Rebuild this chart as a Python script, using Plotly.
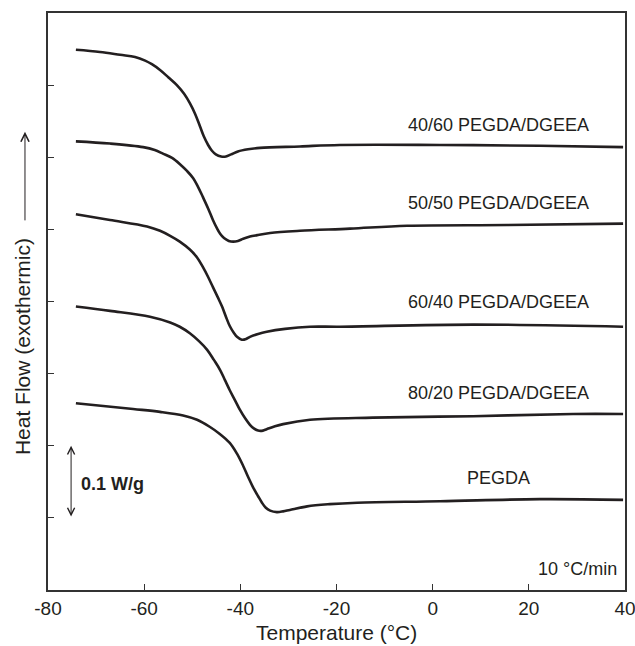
import plotly.graph_objects as go

# ---- data (Temperature in °C, heat flow in W/g, curves offset vertically) ----
x_4060 = [-74.2, -69.2, -65.0, -61.9, -59.8, -58.4, -56.7, -55.0, -53.2, -51.7, -50.5, -49.4, -48.4, -47.6,
          -46.7, -45.9, -45.1, -44.0, -43.0, -41.9, -40.5, -38.4, -35.9, -27.6, -19.3, 1.5, 22.3, 39.6]
y_4060 = [0.749, 0.746, 0.742, 0.739, 0.734, 0.729, 0.721, 0.711, 0.700, 0.688, 0.675, 0.660, 0.643, 0.629,
          0.617, 0.609, 0.604, 0.601, 0.601, 0.604, 0.608, 0.611, 0.613, 0.615, 0.617, 0.617, 0.616, 0.614]

x_5050 = [-74.2, -67.1, -60.2, -57.8, -56.1, -54.2, -52.5, -51.1, -49.8, -48.8, -47.8, -46.7, -45.7, -44.9,
          -44.2, -43.4, -42.4, -41.5, -40.5, -39.4, -38.0, -36.5, -33.8, -27.6, -17.2, -5.3, 15.5, 39.6]
y_5050 = [0.622, 0.619, 0.614, 0.610, 0.605, 0.599, 0.590, 0.581, 0.571, 0.559, 0.545, 0.529, 0.513, 0.502,
          0.494, 0.488, 0.484, 0.483, 0.484, 0.487, 0.490, 0.492, 0.495, 0.498, 0.501, 0.505, 0.506, 0.508]

x_6040 = [-74.2, -67.1, -59.4, -56.7, -54.6, -52.6, -50.5, -49.0, -47.8, -46.7, -45.7, -44.7, -43.8, -43.0,
          -42.2, -41.3, -40.7, -39.7, -38.8, -38.0, -36.3, -34.5, -30.7, -25.5, -19.3, 8.4, 39.6]
y_6040 = [0.521, 0.513, 0.504, 0.498, 0.491, 0.483, 0.472, 0.461, 0.448, 0.434, 0.420, 0.406, 0.393, 0.379,
          0.366, 0.356, 0.351, 0.347, 0.348, 0.351, 0.355, 0.358, 0.362, 0.365, 0.365, 0.368, 0.365]

x_8020 = [-74.2, -67.1, -58.8, -54.6, -52.6, -50.5, -48.6, -46.9, -45.5, -44.2, -43.2, -42.2, -41.1, -40.1,
          -39.0, -38.0, -37.2, -36.3, -35.3, -34.5, -32.8, -31.1, -25.5, -12.4, 8.4, 29.2, 39.6]
y_8020 = [0.393, 0.387, 0.379, 0.371, 0.365, 0.356, 0.345, 0.333, 0.319, 0.305, 0.291, 0.277, 0.263, 0.250,
          0.238, 0.229, 0.224, 0.221, 0.221, 0.223, 0.227, 0.230, 0.236, 0.239, 0.241, 0.244, 0.244]

x_pegda = [-74.2, -62.3, -56.7, -51.9, -49.0, -46.3, -44.2, -42.2, -40.7, -39.4, -38.4, -37.4, -36.3, -35.5,
           -34.7, -33.8, -32.4, -31.1, -29.7, -26.1, -21.4, -15.7, 1.5, 22.3, 39.6]
y_pegda = [0.259, 0.251, 0.247, 0.242, 0.236, 0.226, 0.216, 0.204, 0.189, 0.172, 0.157, 0.143, 0.130, 0.121,
           0.114, 0.110, 0.108, 0.109, 0.111, 0.116, 0.119, 0.121, 0.123, 0.126, 0.125]

series = [
    ("40/60 PEGDA/DGEEA", x_4060, y_4060),
    ("50/50 PEGDA/DGEEA", x_5050, y_5050),
    ("60/40 PEGDA/DGEEA", x_6040, y_6040),
    ("80/20 PEGDA/DGEEA", x_8020, y_8020),
    ("PEGDA", x_pegda, y_pegda),
]
label_y = [0.645, 0.537, 0.399, 0.273, 0.155]
x_ticks = [-80, -60, -40, -20, 0, 20, 40]
x_ticklabels = ["-80", "-60", "-40", "-20", "0", "20", "40"]
y_ticks = [0.1, 0.2, 0.3, 0.4, 0.5, 0.6, 0.7]

FONT = "Liberation Sans, Arial, Helvetica, sans-serif"
INK = "#231f20"
AX = "#333333"

fig = go.Figure()
for name, xs, ys in series:
    fig.add_trace(go.Scatter(x=xs, y=ys, mode="lines", name=name,
                             line=dict(color=INK, width=2.6, shape="spline", smoothing=1.0),
                             showlegend=False, hoverinfo="skip"))

for (name, _, _), ly in zip(series, label_y):
    fig.add_annotation(x=13.6, y=ly, xref="x", yref="y", text=name, showarrow=False,
                       font=dict(family=FONT, size=18, color=INK), xanchor="center", yanchor="middle")

# scale bar 0.1 W/g
fig.add_annotation(x=-75.2, y=0.2, ax=-75.2, ay=0.1, xref="x", yref="y", axref="x", ayref="y",
                   text="", showarrow=True, arrowhead=5, startarrowhead=5, arrowside="end+start",
                   arrowsize=1.4, startarrowsize=1.4, arrowwidth=1, arrowcolor=INK)
fig.add_annotation(x=-73.6, y=0.147, xref="x", yref="y", text="<b>0.1 W/g</b>", showarrow=False,
                   font=dict(family=FONT, size=18, color=INK), xanchor="left", yanchor="middle")
fig.add_annotation(x=38.8, y=0.029, xref="x", yref="y", text="10 °C/min", showarrow=False,
                   font=dict(family=FONT, size=18, color=INK), xanchor="right", yanchor="middle")

# axis titles
fig.add_annotation(x=0.5, y=-0.0745, xref="paper", yref="paper", text="Temperature (°C)", showarrow=False,
                   font=dict(family=FONT, size=21, color=INK), xanchor="center", yanchor="middle")
fig.add_annotation(x=-0.045, y=0.421, xref="paper", yref="paper", text="Heat Flow (exothermic)", showarrow=False,
                   textangle=-90, font=dict(family=FONT, size=21, color=INK), xanchor="center", yanchor="middle")
fig.add_annotation(x=-0.0399, y=0.794, xref="paper", yref="paper", ax=0, ay=90, text="", showarrow=True,
                   arrowhead=5, arrowsize=1.6, arrowwidth=1, arrowcolor=INK)

fig.update_layout(
    width=635, height=646, autosize=False,
    margin=dict(l=48, r=10, t=13, b=56, autoexpand=False),
    paper_bgcolor="white", plot_bgcolor="white",
    font=dict(family=FONT, size=19, color=INK),
    xaxis=dict(range=[-80, 40], tickvals=x_ticks, ticktext=x_ticklabels, ticks="inside", ticklen=6, tickwidth=1,
               tickcolor=AX, showline=True, linecolor=AX, linewidth=1.5, mirror=True, automargin=False,
               ticklabeloverflow="allow",
               showgrid=False, zeroline=False, tickfont=dict(size=19, color=INK)),
    yaxis=dict(range=[0, 0.8], tickvals=y_ticks, ticks="inside", ticklen=6, tickwidth=1,
               tickcolor=AX, showline=True, linecolor=AX, linewidth=1.5, mirror=True, automargin=False,
               showgrid=False, zeroline=False, showticklabels=False),
)

fig.write_html("out.html", config={"responsive": False},
               post_script="document.documentElement.style.overflow='hidden';document.body.style.margin='0';document.body.style.overflow='hidden';")
